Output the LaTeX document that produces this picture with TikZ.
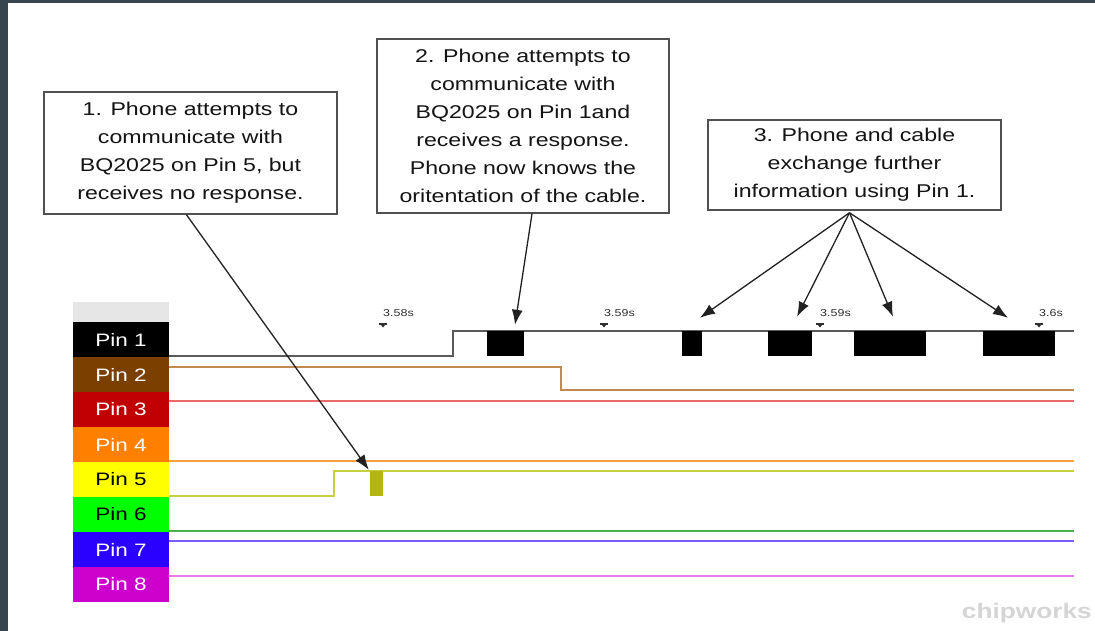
\documentclass[tikz,border=0pt]{standalone}
\usepackage{fontspec}
\usetikzlibrary{arrows.meta,calc}
\newfontfamily\wide[FakeStretch=1.25]{Liberation Sans}
\definecolor{frame}{HTML}{364550}
\definecolor{boxline}{HTML}{505050}
\definecolor{sigA}{HTML}{5A5A5A}
\definecolor{sigB}{HTML}{C08A50}
\definecolor{sigC}{HTML}{E86A6A}
\definecolor{sigD}{HTML}{FFA040}
\definecolor{sigE}{HTML}{C8D040}
\definecolor{blkE}{HTML}{B4B414}
\definecolor{sigF}{HTML}{4CB04C}
\definecolor{sigG}{HTML}{7A5CFF}
\definecolor{sigH}{HTML}{E57BE5}
\definecolor{pinB}{HTML}{7B3F00}
\definecolor{pinC}{HTML}{C00000}
\definecolor{pinD}{HTML}{FF7F00}
\definecolor{pinE}{HTML}{FFFF00}
\definecolor{pinF}{HTML}{00FF00}
\definecolor{pinG}{HTML}{2A00FF}
\definecolor{pinH}{HTML}{CC00CC}
\definecolor{band}{HTML}{E6E6E6}
\definecolor{mark}{HTML}{D5D5D5}
\definecolor{tick}{HTML}{303030}
\begin{document}
\begin{tikzpicture}[x=1pt,y=-1pt,
  note/.style={draw=boxline,line width=1.5,fill=white,inner sep=0,align=center,
    font=\wide\fontsize{18.5}{28}\selectfont,text=black!92},
  pinlbl/.style={inner sep=0,minimum width=96,minimum height=35,
    font=\wide\fontsize{18}{20}\selectfont},
  blk/.style={fill=black,inner sep=0,minimum height=25},
  sig/.style={line width=1.8},
  arr/.style={draw=black!87,line width=1.3,-{Latex[length=15,width=11]}},
  tlabel/.style={font=\wide\fontsize{10}{11}\selectfont,text=tick,anchor=west,inner sep=0}
]
\useasboundingbox (0,0) rectangle (1095,631);
\fill[white] (0,0) rectangle (1095,631);
\fill[frame] (0,0) rectangle (8,631);
\fill[frame] (0,0) rectangle (1095,3);

% notes
\node[note,minimum width=293,minimum height=122] (n1) at (190.5,153)
  {1. Phone attempts to\\communicate with\\BQ2025 on Pin 5, but\\receives no response.};
\node[note,minimum width=292,minimum height=174] (n2) at (523,126)
  {2. Phone attempts to\\communicate with\\BQ2025 on Pin 1and\\receives a response.\\Phone now knows the\\oritentation of the cable.};
\node[note,minimum width=293,minimum height=90] (n3) at (854.5,165)
  {3. Phone and cable\\exchange further\\information using Pin 1.};

% pin labels
\fill[band] (73,302) rectangle (169,322);
\node[pinlbl,fill=black,text=white] (p1) at (121,339.5) {Pin 1};
\node[pinlbl,fill=pinB,text=white] (p2) at (121,374.5) {Pin 2};
\node[pinlbl,fill=pinC,text=white] (p3) at (121,409.5) {Pin 3};
\node[pinlbl,fill=pinD,text=white] (p4) at (121,444.5) {Pin 4};
\node[pinlbl,fill=pinE,text=black] (p5) at (121,479.5) {Pin 5};
\node[pinlbl,fill=pinF,text=black] (p6) at (121,514.5) {Pin 6};
\node[pinlbl,fill=pinG,text=white] (p7) at (121,549.5) {Pin 7};
\node[pinlbl,fill=pinH,text=white] (p8) at (121,584.5) {Pin 8};

% signals
\draw[sig,sigA] (169,356) -- (453,356) -- (453,331) -- (1074,331);
\draw[sig,sigB] (169,367) -- (561,367) -- (561,390) -- (1074,390);
\draw[sig,sigC] (169,401) -- (1074,401);
\draw[sig,sigD] (169,461) -- (1074,461);
\draw[sig,sigE] (169,496) -- (334,496) -- (334,471) -- (1074,471);
\draw[sig,sigF] (169,531) -- (1074,531);
\draw[sig,sigG] (169,541) -- (1074,541);
\draw[sig,sigH] (169,576) -- (1074,576);

% blocks
\node[blk,minimum width=37] (bA) at (505.5,343.5) {};
\node[blk,minimum width=20] (bB) at (692,343.5) {};
\node[blk,minimum width=44] (bC) at (790,343.5) {};
\node[blk,minimum width=72] (bD) at (890,343.5) {};
\node[blk,minimum width=72] (bE) at (1019,343.5) {};
\node[fill=blkE,inner sep=0,minimum width=13,minimum height=25] (bP) at (376.5,483.5) {};

% time markers
\foreach \x/\t [count=\i] in {383/3.58s,604/3.59s,820/3.59s,1039/3.6s}{
  \node[tlabel] (tl\i) at (\x,313) {\t};
  \draw[tick,line width=1.2] (\x-4,324) -- (\x+4,324);
  \fill[tick] (\x-2.5,324.5) -- (\x+2.5,324.5) -- (\x,327.5) -- cycle;
}

% arrows
\draw[arr] ([xshift=-4]n1.south) -- ($(bP.north west)+(-1,-1)$);
\draw[arr] ([xshift=9]n2.south) -- ($(bA.north)+(9.5,-6)$);
\coordinate (f3) at ($(n3.south)+(-5,2)$);
\draw[arr] (f3) -- ($(bB.north)+(8,-13)$);
\draw[arr] (f3) -- ($(bC.north)+(7,-14)$);
\draw[arr] (f3) -- ($(bD.north)+(3,-14)$);
\draw[arr] (f3) -- ($(bE.north)+(-11,-13)$);

% watermark
\node[font=\wide\bfseries\fontsize{21}{24}\selectfont,text=mark,anchor=east,inner sep=0] (wm) at (1092,613) {chipworks};
\end{tikzpicture}
\end{document}
